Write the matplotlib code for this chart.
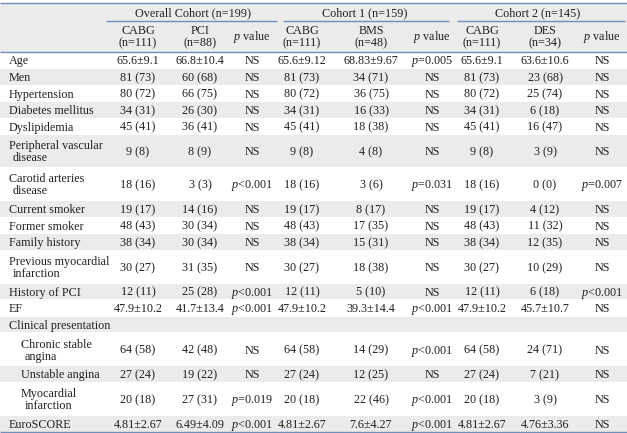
import matplotlib
matplotlib.use("Agg")
import matplotlib.pyplot as plt
from matplotlib.patches import Rectangle

plt.rcParams['font.family'] = ['Liberation Serif', 'DejaVu Serif']
plt.rcParams['mathtext.fontset'] = 'custom'
plt.rcParams['mathtext.rm'] = 'Liberation Serif'
plt.rcParams['mathtext.it'] = 'Liberation Serif:italic'

# ---------------- data ----------------
groups = ["Overall Cohort (n=199)", "Cohort 1 (n=159)", "Cohort 2 (n=145)"]
sub_headers = ["CABG\n(n=111)", "PCI\n(n=88)", "p value",
               "CABG\n(n=111)", "BMS\n(n=48)", "p value",
               "CABG\n(n=111)", "DES\n(n=34)", "p value"]
row_labels = ["Age", "Men", "Hypertension", "Diabetes mellitus", "Dyslipidemia",
              "Peripheral vascular\ndisease", "Carotid arteries\ndisease",
              "Current smoker", "Former smoker", "Family history",
              "Previous myocardial\ninfarction", "History of PCI", "EF",
              "Clinical presentation", "Chronic stable\nangina", "Unstable angina",
              "Myocardial\ninfarction", "EuroSCORE"]
row_indent = [0, 0, 0, 0, 0, 0, 0, 0, 0, 0, 0, 0, 0, 0, 1, 1, 1, 0]

overall_cabg = ["65.6±9.1", "81 (73)", "80 (72)", "34 (31)", "45 (41)", "9 (8)", "18 (16)",
                "19 (17)", "48 (43)", "38 (34)", "30 (27)", "12 (11)", "47.9±10.2", "",
                "64 (58)", "27 (24)", "20 (18)", "4.81±2.67"]
overall_pci = ["66.8±10.4", "60 (68)", "66 (75)", "26 (30)", "36 (41)", "8 (9)", "3 (3)",
               "14 (16)", "30 (34)", "30 (34)", "31 (35)", "25 (28)", "41.7±13.4", "",
               "42 (48)", "19 (22)", "27 (31)", "6.49±4.09"]
overall_p = ["NS", "NS", "NS", "NS", "NS", "NS", "p<0.001", "NS", "NS", "NS", "NS",
             "p<0.001", "p<0.001", "", "NS", "NS", "p=0.019", "p<0.001"]
c1_cabg = ["65.6±9.12", "81 (73)", "80 (72)", "34 (31)", "45 (41)", "9 (8)", "18 (16)",
           "19 (17)", "48 (43)", "38 (34)", "30 (27)", "12 (11)", "47.9±10.2", "",
           "64 (58)", "27 (24)", "20 (18)", "4.81±2.67"]
c1_bms = ["68.83±9.67", "34 (71)", "36 (75)", "16 (33)", "18 (38)", "4 (8)", "3 (6)",
          "8 (17)", "17 (35)", "15 (31)", "18 (38)", "5 (10)", "39.3±14.4", "",
          "14 (29)", "12 (25)", "22 (46)", "7.6±4.27"]
c1_p = ["p=0.005", "NS", "NS", "NS", "NS", "NS", "p=0.031", "NS", "NS", "NS", "NS",
        "NS", "p<0.001", "", "p<0.001", "NS", "p<0.001", "p<0.001"]
c2_cabg = ["65.6±9.1", "81 (73)", "80 (72)", "34 (31)", "45 (41)", "9 (8)", "18 (16)",
           "19 (17)", "48 (43)", "38 (34)", "30 (27)", "12 (11)", "47.9±10.2", "",
           "64 (58)", "27 (24)", "20 (18)", "4.81±2.67"]
c2_des = ["63.6±10.6", "23 (68)", "25 (74)", "6 (18)", "16 (47)", "3 (9)", "0 (0)",
          "4 (12)", "11 (32)", "12 (35)", "10 (29)", "6 (18)", "45.7±10.7", "",
          "24 (71)", "7 (21)", "3 (9)", "4.76±3.36"]
c2_p = ["NS", "NS", "NS", "NS", "NS", "NS", "p=0.007", "NS", "NS", "NS", "NS",
        "p<0.001", "NS", "", "NS", "NS", "NS", "NS"]

columns = [overall_cabg, overall_pci, overall_p, c1_cabg, c1_bms, c1_p, c2_cabg, c2_des, c2_p]

# ---------------- layout ----------------
W, H = 627, 433
col_x = [138, 200, 252, 302, 371, 432, 482, 545, 602]
group_span = [(106, 277), (283, 449), (457, 625)]
group_cx = [193, 365, 538]
label_x = 9
indent_x = 21
top_y = 3
group_line_y = 21
header_bottom = 52
table_bottom = 432

line_color = "#6f8fb8"
shade = "#ebebeb"
txt = "#231f20"
fs = 8.7
base_off = 4.2   # baseline offset below the visual centre


def put(x, cy, s, ha):
    ax.text(x, cy + base_off, s, ha=ha, va="baseline", fontsize=fs, color=txt)


fig = plt.figure(figsize=(W / 100, H / 100), dpi=100)
ax = fig.add_axes([0, 0, 1, 1])
ax.set_xlim(0, W)
ax.set_ylim(H, 0)
ax.axis("off")


def fmt(s):
    if s.startswith("p"):
        return "$p$" + s[1:]
    return s


# row heights
units = [2 if "\n" in lab else 1 for lab in row_labels]
unit_h = (table_bottom - header_bottom) / sum(units)

# header shading
ax.add_patch(Rectangle((0, top_y), W, header_bottom - top_y, color=shade, lw=0, zorder=0))

y = header_bottom
for i, lab in enumerate(row_labels):
    h = units[i] * unit_h
    if i % 2 == 1:
        ax.add_patch(Rectangle((0, y + 0.5), W, h - 1, color=shade, lw=0, zorder=0))
    cy = y + h / 2
    lx = indent_x if row_indent[i] else label_x
    parts = lab.split("\n")
    if len(parts) == 1:
        put(lx, cy, parts[0], "left")
    else:
        put(lx, cy - 6, parts[0], "left")
        put(lx + 4, cy + 6, parts[1], "left")
    for cx, col in zip(col_x, columns):
        if col[i]:
            put(cx, cy, fmt(col[i]), "center")
    y += h

# headers
for g, cx in zip(groups, group_cx):
    put(cx, 12, g, "center")
for (x0, x1) in group_span:
    ax.plot([x0, x1], [group_line_y, group_line_y], color=line_color, lw=1.0, solid_capstyle="butt")
for cx, sh in zip(col_x, sub_headers):
    parts = sh.split("\n")
    if len(parts) == 2:
        put(cx, 30, parts[0], "center")
        put(cx, 42, parts[1], "center")
    else:
        put(cx, 36, fmt(sh), "center")

# rules
for yy in (top_y, header_bottom, table_bottom):
    ax.plot([0, W], [yy, yy], color=line_color, lw=1.0, solid_capstyle="butt")

fig.savefig("out.png", dpi=100)
